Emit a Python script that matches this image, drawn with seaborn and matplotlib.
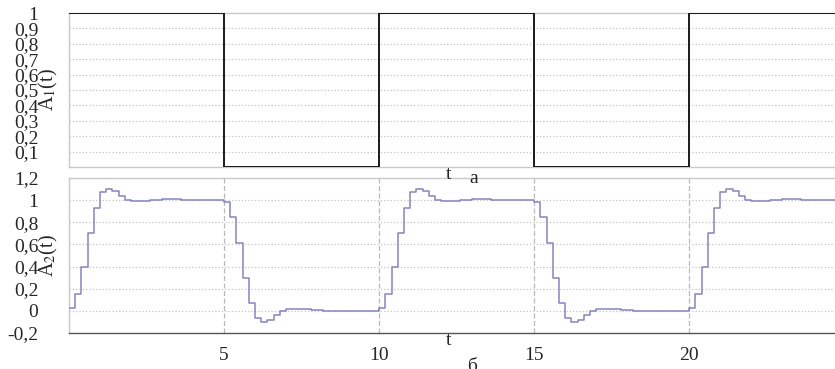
import numpy as np
import pandas as pd
import matplotlib
matplotlib.use("Agg")
import matplotlib.pyplot as plt
import seaborn as sns

# square wave A1(t): switching times and levels
a1_t = [0, 5, 10, 15, 20, 24.7]
a1_v = [1, 0, 1, 0, 1, 1]

dt = 0.2
rise = [0.03, 0.15, 0.40, 0.70, 0.93, 1.07, 1.10, 1.08, 1.04, 1.00,
        0.99, 0.99, 0.995, 1.0, 1.005, 1.01, 1.01, 1.01, 1.005, 1.005,
        1.0, 1.0, 1.0, 1.0, 1.0]
fall = [0.98, 0.85, 0.61, 0.30, 0.07, -0.06, -0.10, -0.08, -0.04, 0.0,
        0.015, 0.02, 0.02, 0.015, 0.01, 0.005, 0.0, 0.0, -0.005, 0.0,
        0.0, 0.0, 0.0, 0.0, 0.0]

a1_ticks = [0.1, 0.2, 0.3, 0.4, 0.5, 0.6, 0.7, 0.8, 0.9, 1.0]
a1_labels = ["0,1", "0,2", "0,3", "0,4", "0,5", "0,6", "0,7", "0,8", "0,9", "1"]
a2_ticks = [-0.2, 0.0, 0.2, 0.4, 0.6, 0.8, 1.0, 1.2]
a2_labels = ["-0,2", "0", "0,2", "0,4", "0,6", "0,8", "1", "1,2"]
x_ticks = [5, 10, 15, 20]
x_labels = ["5", "10", "15", "20"]

x_max = 24.7

a2_v = (rise + fall) * 2 + rise
a2_v = a2_v + [a2_v[-1]]
a2_t = [round(i * dt, 2) for i in range(len(a2_v))]

df1 = pd.DataFrame({"t": a1_t, "A": a1_v})
df2 = pd.DataFrame({"t": a2_t, "A": a2_v})
df2 = df2[df2["t"] <= x_max + dt]

sns.set_style("white")
plt.rcParams["font.family"] = ["Liberation Serif", "DejaVu Serif"]
plt.rcParams["mathtext.fontset"] = "stix"

W, H = 835, 369
fig = plt.figure(figsize=(8.35, 3.69), dpi=100)
ax1 = fig.add_axes([69 / W, 1 - 167 / H, 1 - 69 / W, 154 / H])
ax2 = fig.add_axes([69 / W, 1 - 333 / H, 1 - 69 / W, 155 / H])
ax2.patch.set_alpha(0)

grid_kw = dict(color="#c4c4c4", linestyle=":", linewidth=0.9)

# top panel
sns.lineplot(data=df1, x="t", y="A", ax=ax1, drawstyle="steps-post",
             color="#1a1a1a", linewidth=1.4, zorder=3)
ax1.set_xlim(0, x_max)
ax1.set_ylim(0, 1)
ax1.set_yticks(a1_ticks)
ax1.set_yticklabels(a1_labels)
ax1.set_xticks(x_ticks)
ax1.set_xticklabels([])
for y in a1_ticks[:-1]:
    ax1.axhline(y, **grid_kw, zorder=1)
ax1.set_xlabel("")
ax1.set_ylabel("A$_1$(t)", fontsize=14.5)

# bottom panel
sns.lineplot(data=df2, x="t", y="A", ax=ax2, drawstyle="steps-post",
             color="#8585c0", linewidth=1.1, zorder=3)
ax2.set_xlim(0, x_max)
ax2.set_ylim(-0.2, 1.2)
ax2.set_yticks(a2_ticks)
ax2.set_yticklabels(a2_labels)
ax2.set_xticks(x_ticks)
ax2.set_xticklabels(x_labels)
for y in a2_ticks[1:-1]:
    ax2.axhline(y, **grid_kw, zorder=1)
for x in x_ticks:
    ax2.axvline(x, color="#b8b8b8", linestyle=(0, (4, 2)), linewidth=0.9, zorder=1)
ax2.set_xlabel("")
ax2.set_ylabel("A$_2$(t)", fontsize=14.5)

for ax in (ax1, ax2):
    ax.tick_params(axis="both", length=0, labelsize=14)
    ax.tick_params(axis="y", pad=22)
    ax.yaxis.set_label_coords(-0.012, 0.5)
    for side, sp in ax.spines.items():
        sp.set_color("#c8c8c8")
        sp.set_linewidth(1.0)
    ax.spines["right"].set_visible(False)
ax2.spines["bottom"].set_color("#555555")
ax2.tick_params(axis="x", pad=10)

# axis names and panel captions
fig.text(449 / W, 1 - 166 / H, "t", fontsize=14, ha="center", va="top")
fig.text(474 / W, 1 - 170 / H, "а", fontsize=14, ha="center", va="top")
fig.text(449 / W, 1 - 332 / H, "t", fontsize=14, ha="center", va="top")
fig.text(472 / W, 1 - 358 / H, "б", fontsize=14, ha="center", va="top")

fig.savefig("out.png", dpi=100)
